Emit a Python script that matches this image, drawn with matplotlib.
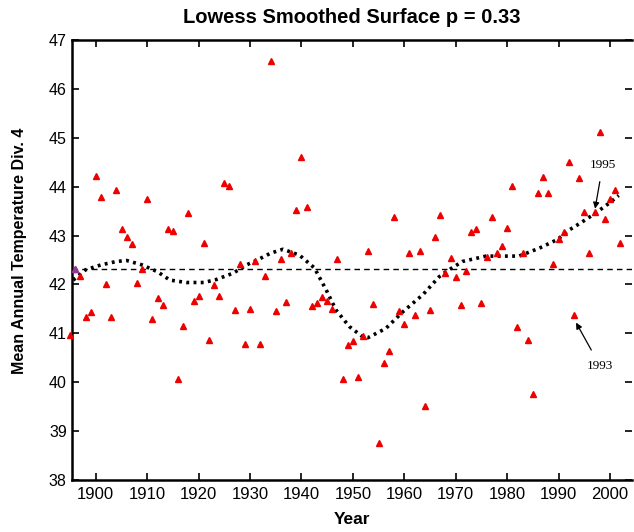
import numpy as np
import matplotlib
matplotlib.use("Agg")
import matplotlib.pyplot as plt

# yearly mean temperatures
years = np.arange(1895, 2003)
temps = [
    40.97, 42.31, 42.18, 41.34, 41.43, 44.22, 43.78, 42.00, 41.34, 43.93,
    43.13, 42.98, 42.82, 42.04, 42.31, 43.75, 41.29, 41.72, 41.58, 43.13,
    43.09, 40.07, 41.16, 43.46, 41.66, 41.76, 42.84, 40.87, 41.98, 41.76,
    44.07, 44.02, 41.48, 42.41, 40.79, 41.50, 42.47, 40.79, 42.17, 46.58,
    41.46, 42.52, 41.64, 42.64, 43.53, 44.60, 43.58, 41.56, 41.62, 41.74,
    41.66, 41.50, 42.52, 40.07, 40.76, 40.84, 40.10, 40.95, 42.69, 41.60,
    38.75, 40.39, 40.64, 43.37, 41.46, 41.19, 42.64, 41.38, 42.69, 39.52,
    41.48, 42.98, 43.43, 42.23, 42.55, 42.15, 41.59, 42.28, 43.08, 43.13,
    41.62, 42.57, 43.37, 42.65, 42.79, 43.16, 44.01, 41.14, 42.65, 40.87,
    39.75, 43.88, 44.20, 43.88, 42.41, 42.94, 43.08, 44.51, 41.38, 44.17,
    43.48, 42.64, 43.49, 45.12, 43.34, 43.74, 43.93, 42.84,
]

# lowess curve
lowess_years = [1895.6, 1898, 1901, 1904, 1906, 1909, 1912, 1914.4, 1917.6,
                1921, 1923.4, 1926.7, 1929.3, 1931.2, 1934, 1936.4, 1939.6,
                1942.5, 1944.8, 1946.7, 1949.3, 1951.9, 1952.9, 1956.4,
                1959.7, 1963.6, 1966.8, 1968.1, 1971.3, 1975.9, 1982.3,
                1986.2, 1989.8, 1992, 1994.6, 1997.2, 1999.8, 2001.7]
lowess_vals = [42.09, 42.30, 42.40, 42.47, 42.49, 42.40, 42.26, 42.09, 42.04,
               42.04, 42.10, 42.23, 42.40, 42.49, 42.64, 42.72, 42.60,
               42.34, 41.89, 41.48, 41.14, 40.93, 40.91, 41.10,
               41.44, 41.79, 42.16, 42.26, 42.47, 42.58, 42.58,
               42.74, 42.92, 43.11, 43.28, 43.46, 43.66, 43.82]

mean_temp = 42.32
xticks = np.arange(1900, 2001, 10)
yticks = np.arange(38, 48, 1)

plt.rcParams['font.family'] = ['Liberation Sans', 'DejaVu Sans']

fig = plt.figure(figsize=(6.34, 5.32), dpi=100)
ax = fig.add_axes([0.113, 0.0977, 0.884, 0.8271])

ax.axhline(mean_temp, color='black', lw=1, linestyle=(0, (4, 3)))
ax.plot(lowess_years, lowess_vals, color='black', lw=2.6, linestyle=(0, (0.8, 1.2)))
ax.plot(years, temps, linestyle='none', marker='^', markersize=4.6,
        color='#ee0000', markeredgecolor='#ee0000', clip_on=False, zorder=5)
ax.plot(years[1:2], temps[1:2], linestyle='none', marker='^', markersize=4.6,
        color='#8a3c9c', zorder=6)

serif = ['Liberation Serif', 'DejaVu Serif']
ax.annotate('1995', xy=(1997.1, 43.55), xytext=(1998.6, 44.45),
            ha='center', va='center', fontsize=9.5, family=serif,
            arrowprops=dict(arrowstyle='-|>', color='black', lw=0.9,
                            mutation_scale=9, shrinkA=6, shrinkB=0))
ax.annotate('1993', xy=(1993.4, 41.22), xytext=(1998.1, 40.33),
            ha='center', va='center', fontsize=9.5, family=serif,
            arrowprops=dict(arrowstyle='-|>', color='black', lw=0.9,
                            mutation_scale=9, shrinkA=6, shrinkB=0))

ax.set_xlim(1895.3, 2004.3)
ax.set_ylim(38, 47)
ax.set_xticks(xticks)
ax.set_yticks(yticks)
ax.tick_params(direction='in', length=5, width=1.2, top=True, right=True,
               labelsize=11.5)
ax.tick_params(axis='x', labelsize=12, pad=5)
for s in ax.spines.values():
    s.set_linewidth(1.8)
ax.spines['right'].set_visible(False)

ax.set_title('Lowess Smoothed Surface p = 0.33', fontsize=14.5, fontweight='bold',
             pad=12)
ax.set_xlabel('Year', fontsize=12.5, fontweight='bold', labelpad=7)
ax.set_ylabel('Mean Annual Temperature Div. 4', fontsize=11.5, fontweight='bold')
ax.yaxis.set_label_coords(-0.08, 0.52)

fig.savefig('out.png', dpi=100)
